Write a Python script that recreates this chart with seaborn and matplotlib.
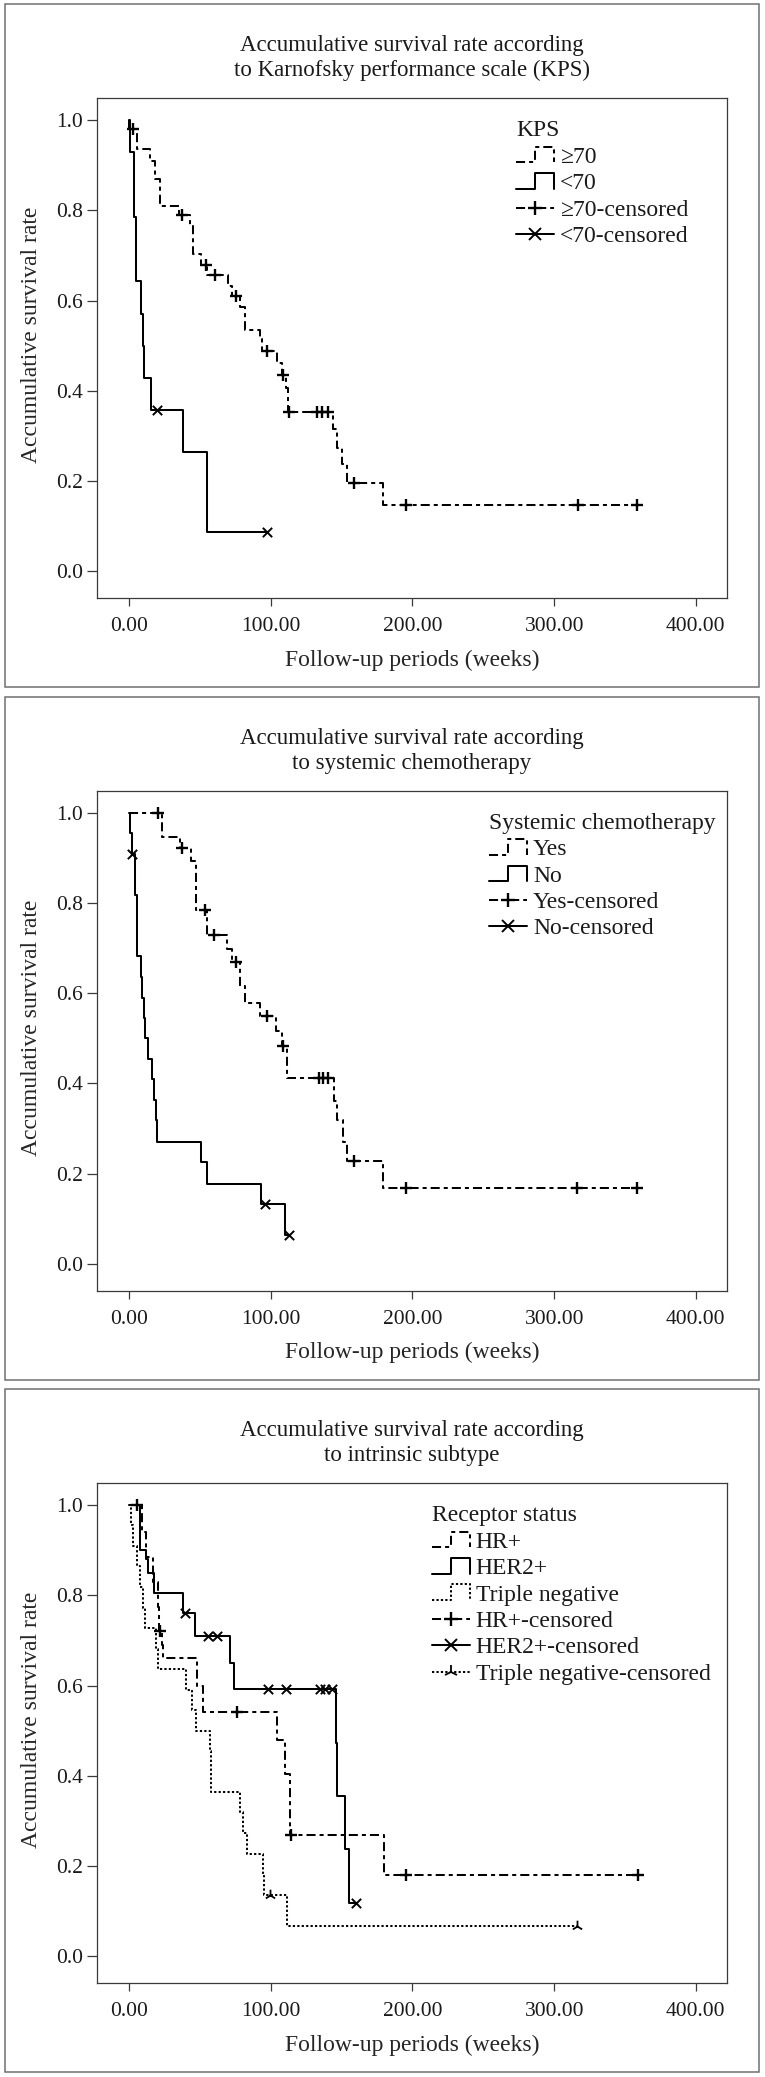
import numpy as np
import pandas as pd
import matplotlib
matplotlib.use("Agg")
import matplotlib.pyplot as plt
import seaborn as sns
from matplotlib.lines import Line2D
from matplotlib.patches import Rectangle
from matplotlib.legend_handler import HandlerBase

# ---------------- data ----------------
x_ticks = [0, 100, 200, 300, 400]
x_tick_labels = ["0.00", "100.00", "200.00", "300.00", "400.00"]
y_ticks = [0.0, 0.2, 0.4, 0.6, 0.8, 1.0]
y_tick_labels = ["0.0", "0.2", "0.4", "0.6", "0.8", "1.0"]

# Panel 1: KPS
kps_ge70_t = [0, 0.3, 5.4, 15.0, 18.5, 21.9, 35.0, 43.0, 45.4, 51.0, 54.8, 70.0, 72.5,
              78.3, 81.9, 92.4, 94.0, 104.2, 107.8, 110.8, 112.5, 144.2, 146.6, 150.0,
              153.6, 179.0]
kps_ge70_s = [1.0, 0.98, 0.937, 0.91, 0.87, 0.81, 0.79, 0.766, 0.703, 0.679, 0.656, 0.632,
              0.61, 0.585, 0.535, 0.514, 0.488, 0.461, 0.435, 0.407, 0.353, 0.315, 0.274,
              0.237, 0.196, 0.146]
kps_ge70_cens = [2.6, 37.2, 54.1, 60.7, 75.5, 97.2, 108.9, 113.0, 132.4, 136.0, 140.7,
                 159.0, 195.2, 316.6, 358.7]
kps_lt70_t = [0, 0.5, 3.7, 5.1, 8.6, 9.9, 10.6, 15.2, 38.3, 54.8]
kps_lt70_s = [1.0, 0.93, 0.786, 0.643, 0.571, 0.50, 0.429, 0.357, 0.265, 0.088]
kps_lt70_cens = [19.5, 97.2]

# Panel 2: systemic chemotherapy
chemo_yes_t = [0, 23.0, 36.0, 43.5, 47.0, 54.9, 69.0, 72.5, 78.3, 81.9, 92.4, 103.8,
               108.0, 111.3, 144.6, 146.5, 151.0, 153.8, 179.0]
chemo_yes_s = [1.0, 0.946, 0.921, 0.892, 0.784, 0.728, 0.697, 0.669, 0.616, 0.579, 0.55,
               0.516, 0.482, 0.413, 0.362, 0.318, 0.27, 0.227, 0.169]
chemo_yes_cens = [20.2, 37.6, 53.6, 60.2, 75.5, 97.6, 108.9, 134.3, 137.2, 140.7, 159.0,
                  195.2, 316.0, 358.3]
chemo_no_t = [0, 0.5, 1.8, 4.0, 5.8, 8.2, 9.3, 10.3, 11.3, 13.7, 16.1, 17.8, 18.9, 19.9,
              50.6, 54.8, 92.9, 110.1]
chemo_no_s = [1.0, 0.955, 0.909, 0.818, 0.682, 0.636, 0.59, 0.545, 0.50, 0.455, 0.41,
              0.364, 0.318, 0.27, 0.226, 0.178, 0.133, 0.065]
chemo_no_cens = [2.4, 96.3, 112.6]

# Panel 3: intrinsic subtype
hr_t = [0, 9.0, 12.0, 17.0, 20.5, 21.3, 23.0, 24.3, 47.8, 52.0, 104.7, 110.1, 113.6, 180.0]
hr_s = [1.0, 0.94, 0.885, 0.83, 0.775, 0.72, 0.69, 0.662, 0.60, 0.542, 0.479, 0.405,
        0.27, 0.18]
hr_cens = [5.8, 21.8, 76.5, 114.3, 195.5, 359.0]
her2_t = [0, 7.5, 12.0, 13.4, 17.8, 38.3, 46.6, 71.3, 74.1, 146.1, 147.0, 152.5, 155.3]
her2_s = [1.0, 0.90, 0.88, 0.85, 0.805, 0.76, 0.71, 0.65, 0.592, 0.472, 0.355, 0.237, 0.119]
her2_cens = [39.5, 56.0, 62.3, 98.3, 110.6, 134.8, 138.3, 143.0, 160.2]
tn_t = [0, 1.5, 3.0, 5.5, 8.0, 10.0, 11.6, 19.0, 20.5, 40.2, 44.2, 47.0, 57.0, 57.5,
        58.0, 78.3, 80.2, 83.5, 94.3, 95.3, 111.3]
tn_s = [1.0, 0.955, 0.909, 0.864, 0.818, 0.773, 0.727, 0.682, 0.636, 0.591, 0.545, 0.50,
        0.455, 0.41, 0.364, 0.319, 0.273, 0.227, 0.182, 0.136, 0.068]
tn_cens = [99.5, 316.0]

titles = [
    ["Accumulative survival rate according", "to Karnofsky performance scale (KPS)"],
    ["Accumulative survival rate according", "to systemic chemotherapy"],
    ["Accumulative survival rate according", "to intrinsic subtype"],
]
legend_titles = ["KPS", "Systemic chemotherapy", "Receptor status"]
x_label = "Follow-up periods (weeks)"
y_label = "Accumulative survival rate"

# ---------------- style ----------------
sns.set_style("ticks")
plt.rcParams["font.family"] = ["Liberation Serif", "DejaVu Serif"]
plt.rcParams["text.color"] = "#1a1a1a"

W, H = 765, 2077
fig = plt.figure(figsize=(W / 100, H / 100), dpi=100)
fig.patch.set_facecolor("white")

LW = 1.45
DASHDOT = (0, (4.5, 2, 2, 2))
DOTTED = (0, (1.1, 1.1))
SOLID = "-"
FS = 17
FS_TITLE = 16.5
FS_TICK = 15.5
PANEL_STEP = 692.5
AX_L, AX_R, AX_T, AX_B = 97, 727, 98, 598
BOX_L, BOX_R, BOX_T, BOX_B = 5, 759, 4, 687
SPINE = "#3a3a3a"


class StepHandler(HandlerBase):
    def create_artists(self, legend, orig_handle, xdescent, ydescent, width, height,
                       fontsize, trans):
        x0, y0 = -xdescent, -ydescent
        xs = x0 + width * np.array([0.0, 0.5, 0.5, 1.0, 1.0])
        ys = y0 + height * np.array([0.0, 0.0, 1.0, 1.0, 0.0])
        ln = Line2D(xs, ys)
        ln.update_from(orig_handle)
        ln.set_marker("None")
        ln.set_transform(trans)
        return [ln]


def draw_curve(ax, t, s, cens, ls, marker, msize, mlw):
    t = np.asarray(t, float)
    s = np.asarray(s, float)
    cens = np.asarray(cens, float)
    t_line, s_line = t, s
    if cens.max() > t[-1]:
        t_line = np.append(t, cens.max())
        s_line = np.append(s, s[-1])
    df = pd.DataFrame({"t": t_line, "s": s_line})
    sns.lineplot(data=df, x="t", y="s", ax=ax, drawstyle="steps-post", estimator=None,
                 sort=False, color="black", lw=LW, linestyle=ls, legend=False)
    idx = np.searchsorted(t, cens, side="right") - 1
    cdf = pd.DataFrame({"t": cens, "s": s[idx]})
    sns.scatterplot(data=cdf, x="t", y="s", ax=ax, marker=marker, s=msize, color="black",
                    linewidth=mlw, zorder=4, legend=False)


panels = [
    dict(curves=[(kps_ge70_t, kps_ge70_s, kps_ge70_cens, DASHDOT, "+", 70, 1.7),
                 (kps_lt70_t, kps_lt70_s, kps_lt70_cens, SOLID, "x", 45, 1.4)],
         step_labels=["\u226570", "<70"],
         cens_labels=["\u226570-censored", "<70-censored"],
         leg_x=0.665),
    dict(curves=[(chemo_yes_t, chemo_yes_s, chemo_yes_cens, DASHDOT, "+", 70, 1.7),
                 (chemo_no_t, chemo_no_s, chemo_no_cens, SOLID, "x", 45, 1.4)],
         step_labels=["Yes", "No"],
         cens_labels=["Yes-censored", "No-censored"],
         leg_x=0.623),
    dict(curves=[(hr_t, hr_s, hr_cens, DASHDOT, "+", 70, 1.7),
                 (her2_t, her2_s, her2_cens, SOLID, "x", 45, 1.4),
                 (tn_t, tn_s, tn_cens, DOTTED, "2", 70, 1.3)],
         step_labels=["HR+", "HER2+", "Triple negative"],
         cens_labels=["HR+-censored", "HER2+-censored", "Triple negative-censored"],
         leg_x=0.532),
]

for k, p in enumerate(panels):
    off = k * PANEL_STEP
    # panel border
    fig.add_artist(Rectangle((BOX_L / W, 1 - (BOX_B + off) / H), (BOX_R - BOX_L) / W,
                             (BOX_B - BOX_T) / H, transform=fig.transFigure, fill=False,
                             ec="#707070", lw=1.1))
    ax = fig.add_axes([AX_L / W, 1 - (AX_B + off) / H, (AX_R - AX_L) / W,
                       (AX_B - AX_T) / H])
    ax.set_facecolor("white")
    for c in p["curves"]:
        draw_curve(ax, *c)

    ax.set_xlim(-22.6, 422)
    ax.set_ylim(-0.059, 1.049)
    ax.set_xticks(x_ticks)
    ax.set_xticklabels(x_tick_labels)
    ax.set_yticks(y_ticks)
    ax.set_yticklabels(y_tick_labels)
    ax.tick_params(direction="out", width=0.9, color=SPINE, labelsize=FS_TICK,
                   labelcolor="#1a1a1a")
    ax.tick_params(axis="x", length=5.5, pad=8.5)
    ax.tick_params(axis="y", length=7, pad=3.3)
    for sp in ax.spines.values():
        sp.set_visible(True)
        sp.set_color(SPINE)
        sp.set_linewidth(0.9)
    ax.set_xlabel(x_label, fontsize=FS)
    ax.set_ylabel(y_label, fontsize=FS)
    ax.xaxis.set_label_coords(0.5, -0.103)
    ax.yaxis.set_label_coords(-0.087, 0.526)

    # two-line title
    ax.text(0.5, 1.094, titles[k][0], transform=ax.transAxes, ha="center", va="baseline",
            fontsize=FS_TITLE)
    ax.text(0.5, 1.044, titles[k][1], transform=ax.transAxes, ha="center", va="baseline",
            fontsize=FS_TITLE)

    # legend
    step_handles = [Line2D([], [], color="black", lw=LW, linestyle=c[3]) for c in p["curves"]]
    cens_handles = [Line2D([], [], color="black", lw=LW, linestyle=c[3], marker=c[4],
                           markersize=10 if c[4] != "x" else 9, mew=c[6])
                    for c in p["curves"]]
    hmap = {h: StepHandler() for h in step_handles}
    ax.legend(step_handles + cens_handles, p["step_labels"] + p["cens_labels"],
              title=legend_titles[k], loc="upper left", bbox_to_anchor=(p["leg_x"], 0.955),
              frameon=False, fontsize=FS, title_fontsize=FS, handlelength=1.6,
              handleheight=0.65, handletextpad=0.25, labelspacing=0.22, borderpad=0,
              borderaxespad=0, alignment="left", handler_map=hmap, numpoints=1)

fig.savefig("out.png", dpi=100, facecolor="white")
